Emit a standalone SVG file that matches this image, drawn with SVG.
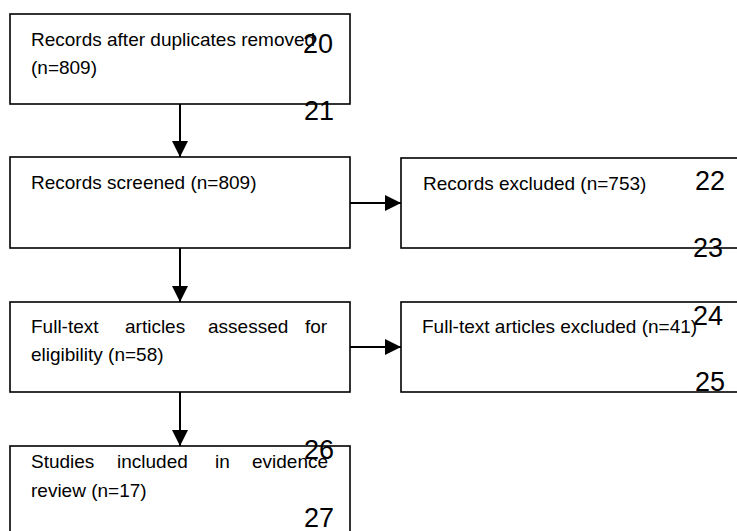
<svg xmlns="http://www.w3.org/2000/svg" width="737" height="531" viewBox="0 0 737 531">
<style>
.box{fill:#fff;stroke:#000;stroke-width:1.6}
.t{font-family:"Liberation Sans",Arial,sans-serif;font-size:19px;fill:#000}
.n{font-family:"Liberation Sans",Arial,sans-serif;font-size:27px;fill:#000}
.c{stroke:#000;stroke-width:2;fill:none}
</style>
<defs>
<marker id="ah" markerUnits="userSpaceOnUse" markerWidth="16" markerHeight="16" viewBox="0 0 16 16" refX="16" refY="8" orient="auto">
<path d="M0,0 L16,8 L0,16 z" fill="#000"/>
</marker>
</defs>
<rect width="737" height="531" fill="#fff"/>
<g id="node-records">
<rect class="box" x="10" y="14" width="340" height="90"/>
<text class="t" x="31" y="46">Records after duplicates removed</text>
<text class="t" x="31" y="74">(n=809)</text>
</g>
<g id="node-screened">
<rect class="box" x="10" y="157" width="340" height="91"/>
<text class="t" x="31" y="189">Records screened (n=809)</text>
</g>
<g id="node-excluded">
<rect class="box" x="401" y="158" width="360" height="90"/>
<text class="t" x="423" y="190">Records excluded (n=753)</text>
</g>
<g id="node-fulltext">
<rect class="box" x="10" y="302" width="340" height="90"/>
<text class="t" y="333"><tspan x="31">Full-text</tspan><tspan x="125">articles</tspan><tspan x="208">assessed</tspan><tspan x="305">for</tspan></text>
<text class="t" x="31" y="361">eligibility (n=58)</text>
</g>
<g id="node-ftexcluded">
<rect class="box" x="401" y="302" width="360" height="90"/>
<text class="t" x="422" y="333">Full-text articles excluded (n=41)</text>
</g>
<g id="node-included">
<rect class="box" x="10" y="446" width="340" height="100"/>
<text class="t" y="468"><tspan x="31">Studies</tspan><tspan x="117">included</tspan><tspan x="215">in</tspan><tspan x="252">evidence</tspan></text>
<text class="t" x="31" y="497">review (n=17)</text>
</g>
<g id="connectors">
<line class="c" x1="180" y1="104" x2="180" y2="157" marker-end="url(#ah)"/>
<line class="c" x1="350" y1="203" x2="401" y2="203" marker-end="url(#ah)"/>
<line class="c" x1="180" y1="248" x2="180" y2="302" marker-end="url(#ah)"/>
<line class="c" x1="350" y1="347" x2="401" y2="347" marker-end="url(#ah)"/>
<line class="c" x1="180" y1="392" x2="180" y2="446" marker-end="url(#ah)"/>
</g>
<g id="line-numbers">
<text class="n" x="303" y="53">20</text>
<text class="n" x="304" y="120">21</text>
<text class="n" x="695" y="190">22</text>
<text class="n" x="693" y="257">23</text>
<text class="n" x="693" y="325">24</text>
<text class="n" x="695" y="391">25</text>
<text class="n" x="304" y="459">26</text>
<text class="n" x="304" y="527">27</text>
</g>
</svg>
